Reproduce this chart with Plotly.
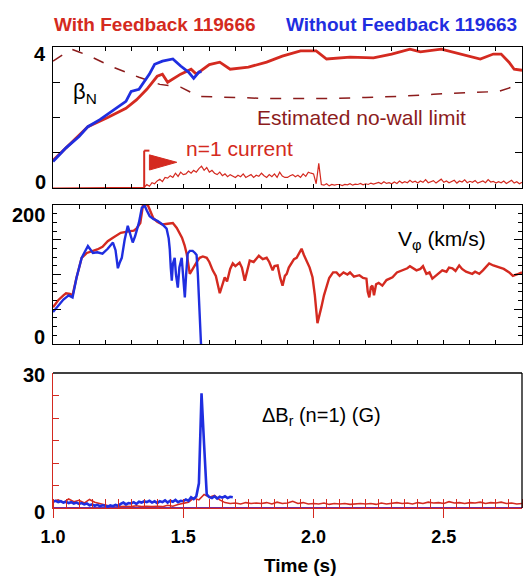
import numpy as np
import plotly.graph_objects as go

W, H = 531, 583
RED = "#d42a20"
BLUE = "#1f2ee0"
DARKRED = "#8c1c1c"
PURPLE = "#7a2a9a"
FONT = "Liberation Sans, Arial, sans-serif"

# ---------------- beta_N ----------------
betaN_fb_t = [1.00, 1.134, 1.21, 1.28, 1.32, 1.36, 1.40, 1.42, 1.44, 1.49, 1.53, 1.55, 1.60, 1.64,
              1.68, 1.75, 1.82, 1.88, 1.95, 2.01, 2.05, 2.14, 2.23, 2.30, 2.37, 2.41, 2.49, 2.59,
              2.64, 2.69, 2.72, 2.75, 2.77, 2.80]
betaN_fb = [0.78, 1.74, 2.00, 2.26, 2.50, 2.80, 3.17, 3.23, 3.00, 3.23, 3.37, 3.23, 3.50, 3.57,
            3.37, 3.43, 3.57, 3.74, 3.89, 3.89, 3.66, 3.71, 3.69, 3.80, 3.94, 3.86, 3.94, 3.74,
            3.66, 3.80, 3.80, 3.57, 3.37, 3.34]

betaN_nofb_t = [1.00, 1.05, 1.10, 1.134, 1.18, 1.245, 1.28, 1.30, 1.33, 1.37, 1.39, 1.42, 1.46,
                1.49, 1.52, 1.54, 1.56, 1.57]
betaN_nofb = [0.75, 1.14, 1.46, 1.74, 1.94, 2.29, 2.46, 2.74, 2.80, 3.23, 3.51, 3.60, 3.66,
              3.46, 3.29, 3.11, 3.29, 3.30]

nowall_t = [1.00, 1.07, 1.10, 1.15, 1.22, 1.28, 1.33, 1.41, 1.49, 1.56, 1.69, 1.82, 1.95, 2.07,
            2.20, 2.33, 2.46, 2.59, 2.71, 2.76, 2.80]
nowall = [3.60, 3.94, 3.86, 3.71, 3.46, 3.29, 3.14, 2.94, 2.86, 2.60, 2.57, 2.54, 2.54, 2.54,
          2.57, 2.60, 2.66, 2.71, 2.74, 2.86, 2.89]

# n=1 coil current (plotted in beta_N units), switched on at 1.35 s
feedback_on = 1.35
coil_t = [1.00] + list(np.round(np.arange(1.35, 2.805, 0.01), 3))
coil = [0.0,
        0.02, 0.10, 0.05, 0.15, 0.12,
        0.20, 0.25, 0.18, 0.30, 0.28, 0.35, 0.30, 0.42, 0.33, 0.45,
        0.38, 0.40, 0.48, 0.42, 0.50, 0.45, 0.55, 0.62, 0.50, 0.58,
        0.45, 0.50, 0.42, 0.38, 0.45, 0.35, 0.40, 0.32, 0.38, 0.35,
        0.30, 0.36, 0.32, 0.40, 0.30, 0.34, 0.38, 0.30, 0.36, 0.33,
        0.42, 0.35, 0.30, 0.38, 0.32, 0.40, 0.30, 0.45, 0.34, 0.30,
        0.30, 0.35, 0.38, 0.32, 0.36, 0.30, 0.40, 0.33, 0.45, 0.42,
        0.40, 0.12, 0.70, 0.10, 0.08, 0.12, 0.06, 0.10, 0.08, 0.10,
        0.10, 0.07, 0.10, 0.09, 0.12, 0.08, 0.11, 0.10, 0.13, 0.09,
        0.12, 0.10, 0.14, 0.11, 0.13, 0.16, 0.12, 0.18, 0.13, 0.15,
        0.12, 0.17, 0.13, 0.20, 0.14, 0.18, 0.15, 0.22, 0.16, 0.19,
        0.14, 0.20, 0.16, 0.24, 0.15, 0.18, 0.21, 0.14, 0.19, 0.25,
        0.16, 0.20, 0.15, 0.18, 0.22, 0.14, 0.20, 0.17, 0.23, 0.15,
        0.19, 0.16, 0.21, 0.14, 0.18, 0.20, 0.15, 0.24, 0.17, 0.19,
        0.14, 0.18, 0.15, 0.20, 0.13, 0.17, 0.22, 0.14, 0.18, 0.12,
        0.16, 0.15]
coil = coil[:len(coil_t)]

# ---------------- toroidal rotation (km/s) ----------------
vphi_fb_t = [1.00, 1.02, 1.04, 1.05, 1.065, 1.075, 1.09, 1.11, 1.13, 1.15, 1.17, 1.19, 1.21, 1.23,
             1.26, 1.29, 1.31, 1.32, 1.335, 1.345, 1.355, 1.365, 1.375, 1.385, 1.40, 1.42, 1.44,
             1.46, 1.475, 1.495, 1.505, 1.513, 1.525, 1.535, 1.543, 1.555, 1.563, 1.575, 1.59,
             1.60, 1.613, 1.625, 1.64, 1.648, 1.659, 1.668, 1.68, 1.69, 1.70, 1.716, 1.725, 1.736,
             1.745, 1.755, 1.77, 1.79, 1.805, 1.82, 1.83, 1.843, 1.85, 1.862, 1.872, 1.881, 1.89,
             1.897, 1.905, 1.916, 1.925, 1.935, 1.945, 1.954, 1.963, 1.973, 1.985, 1.996, 2.005,
             2.015, 2.022, 2.03, 2.04, 2.049, 2.06, 2.075, 2.088, 2.10, 2.115, 2.13, 2.14, 2.155,
             2.176, 2.19, 2.203, 2.208, 2.214, 2.22, 2.226, 2.232, 2.24, 2.25, 2.264, 2.28, 2.303,
             2.32, 2.34, 2.36, 2.37, 2.38, 2.395, 2.41, 2.42, 2.433, 2.445, 2.456, 2.47, 2.48,
             2.494, 2.51, 2.52, 2.533, 2.545, 2.559, 2.57, 2.585, 2.609, 2.62, 2.636, 2.65, 2.674,
             2.69, 2.713, 2.73, 2.751, 2.765, 2.78, 2.80]
vphi_fb = [53, 63, 70, 73, 72, 70, 95, 124, 131, 133, 136, 140, 148, 153,
           160, 162, 163, 166, 174, 199, 202, 199, 190, 181, 176, 172, 173,
           174, 167, 153, 142, 130, 101, 108, 113, 120, 124, 126, 124,
           118, 106, 98, 73, 82, 96, 90, 108, 116, 112, 117, 110, 91,
           105, 120, 118, 127, 122, 124, 118, 106, 112, 113, 95, 84, 98,
           101, 110, 116, 122, 124, 132, 137, 128, 120, 110, 96, 70,
           30, 40, 53, 70, 81, 95, 103, 103, 98, 103, 100, 103, 97,
           99, 95, 94, 75, 67, 82, 84, 70, 86, 88, 84, 92, 96,
           103, 106, 109, 112, 110, 106, 108, 112, 101, 103, 94, 98, 102,
           106, 104, 110, 109, 105, 113, 108, 104, 101, 104, 101, 106, 116,
           113, 110, 108, 103, 98, 100, 103]

vphi_nofb_t = [1.00, 1.02, 1.04, 1.06, 1.075, 1.09, 1.11, 1.134, 1.145, 1.153, 1.17, 1.19, 1.21,
               1.23, 1.24, 1.249, 1.257, 1.264, 1.275, 1.287, 1.295, 1.306, 1.315, 1.322, 1.33,
               1.341, 1.352, 1.36, 1.371, 1.385, 1.402, 1.42, 1.436, 1.444, 1.448, 1.452, 1.456,
               1.46, 1.467, 1.472, 1.479, 1.485, 1.494, 1.50, 1.506, 1.511, 1.517, 1.525, 1.536,
               1.545, 1.551, 1.556, 1.56, 1.563, 1.568, 1.575]
vphi_nofb = [46, 55, 64, 70, 67, 95, 124, 141, 136, 131, 132, 130, 137,
             146, 135, 109, 118, 124, 150, 170, 160, 146, 155, 163, 175,
             196, 199, 192, 184, 180, 177, 172, 166, 152, 137, 110, 91,
             115, 124, 100, 81, 110, 124, 95, 67, 100, 130, 134, 134,
             131, 128, 100, 60, 30, 0, -20]

# ---------------- n=1 radial field (G) ----------------
dbr_fb_t = list(np.round(np.arange(1.00, 2.801, 0.02), 3))
dbr_fb = [1.5, 1.8, 1.2, 2.0, 1.4, 1.7, 1.1, 1.9, 1.3, 1.0,
          0.6, 0.4, 0.5, 0.3, 0.4, 0.3, 0.5, 0.3, 0.4, 0.3,
          0.4, 0.3, 0.6, 0.4, 0.8, 1.0, 1.3, 2.2, 1.8, 3.0,
          2.4, 2.8, 1.8, 1.2, 1.0, 1.1, 0.9, 1.2, 1.0, 1.1,
          1.0, 1.2, 0.9, 1.3, 1.0, 1.1, 1.5, 1.0, 1.2, 0.9,
          1.0, 0.9, 1.1, 0.8, 1.0, 0.9, 1.0, 0.8, 0.9, 1.0,
          0.9, 1.0, 0.8, 1.1, 0.9, 1.0, 1.2, 1.0, 1.1, 0.9,
          1.2, 1.0, 1.3, 1.1, 1.2, 1.0, 1.4, 1.1, 1.2, 1.0,
          1.2, 1.1, 1.3, 1.0, 1.2, 1.1, 1.3, 1.0, 1.1, 0.9, 1.0]

dbr_nofb_t = list(np.round(np.arange(1.00, 1.695, 0.01), 3))
dbr_nofb = [1.4, 1.6, 1.3, 1.5, 1.2, 1.4, 1.1, 1.3, 1.0, 1.2,
            0.9, 1.1, 0.8, 1.0, 0.6, 0.8, 0.5, 0.7, 0.4, 0.6,
            0.5, 0.3, 0.6, 0.4, 0.7, 0.5, 0.9, 1.2, 0.8, 1.1,
            1.0, 1.3, 0.9, 1.4, 1.2, 1.5, 1.3, 1.6, 1.2, 1.5,
            1.1, 1.5, 1.3, 1.7, 1.2, 1.6, 1.4, 1.8, 1.3, 1.6,
            1.5, 1.9, 1.6, 2.4, 2.0, 2.6, 5.5, 25.5, 14.0, 3.0,
            2.4, 2.2, 2.6, 2.1, 2.5, 2.3, 2.6, 2.2, 2.5, 2.4]

t_range = [1.0, 2.8]
x_ticks = [1.0, 1.5, 2.0, 2.5]
x_ticktext = ["1.0", "1.5", "2.0", "2.5"]

# ---------------- layout geometry (pixels) ----------------
X0, X1 = 53, 522
panels = [(47, 188), (205, 344), (373, 508)]


def ydom(top, bot):
    return [1 - bot / H, 1 - top / H]


fig = go.Figure()

# panel 1
fig.add_trace(go.Scatter(x=coil_t, y=coil, mode="lines", line=dict(color=RED, width=1.2),
                         xaxis="x", yaxis="y"))
fig.add_trace(go.Scatter(x=nowall_t, y=nowall, mode="lines",
                         line=dict(color=DARKRED, width=1.5, dash="11px,12px"),
                         xaxis="x", yaxis="y"))
fig.add_trace(go.Scatter(x=betaN_fb_t, y=betaN_fb, mode="lines", line=dict(color=RED, width=2.8),
                         xaxis="x", yaxis="y"))
fig.add_trace(go.Scatter(x=betaN_nofb_t, y=betaN_nofb, mode="lines",
                         line=dict(color=BLUE, width=2.8), xaxis="x", yaxis="y"))

# panel 2
fig.add_trace(go.Scatter(x=vphi_fb_t, y=vphi_fb, mode="lines", line=dict(color=RED, width=2.4),
                         xaxis="x2", yaxis="y2"))
fig.add_trace(go.Scatter(x=vphi_nofb_t, y=vphi_nofb, mode="lines",
                         line=dict(color=BLUE, width=2.4), xaxis="x2", yaxis="y2"))

# panel 3
fig.add_trace(go.Scatter(x=t_range, y=[0, 0], mode="lines", line=dict(color=PURPLE, width=2),
                         xaxis="x3", yaxis="y3"))
fig.add_trace(go.Scatter(x=dbr_fb_t, y=dbr_fb, mode="lines", line=dict(color=RED, width=1.6),
                         xaxis="x3", yaxis="y3"))
fig.add_trace(go.Scatter(x=dbr_nofb_t, y=dbr_nofb, mode="lines", line=dict(color=BLUE, width=2.6),
                         xaxis="x3", yaxis="y3"))

xdom = [X0 / W, X1 / W]
common_x = dict(range=t_range, domain=xdom, showgrid=False, zeroline=False, automargin=False,
                linecolor="black", linewidth=1.3, showline=True)
common_y = dict(showgrid=False, zeroline=False, showline=True, linewidth=1.3, automargin=False,
                showticklabels=False, tickmode="array", ticks="inside")
fig.update_layout(
    width=W, height=H, autosize=False,
    margin=dict(l=0, r=0, t=0, b=0, pad=0, autoexpand=False),
    paper_bgcolor="white", plot_bgcolor="white",
    showlegend=False,
    font=dict(family=FONT, color="black"),
    xaxis=dict(**common_x, anchor="y", ticks="inside", dtick=0.1, tick0=1.0, ticklen=4,
               tickcolor="black", mirror="ticks", showticklabels=False),
    xaxis2=dict(**common_x, anchor="y2", ticks="inside", dtick=0.1, tick0=1.0, ticklen=4,
                tickcolor="black", mirror="ticks", showticklabels=False),
    xaxis3=dict(range=t_range, domain=xdom, showgrid=False, zeroline=False, showline=True,
                automargin=False,
                linecolor=RED, linewidth=1.3, anchor="y3",
                tickmode="array", tickvals=x_ticks, ticktext=x_ticktext,
                ticks="outside", ticklen=9, tickcolor=RED, tickwidth=1.3,
                ticklabelstandoff=3,
                tickfont=dict(size=18, family=FONT, color="black", weight="bold"),
                minor=dict(ticks="inside", dtick=0.05, tick0=1.0, ticklen=9,
                           tickcolor=RED, tickwidth=1.2)),
    yaxis=dict(**common_y, range=[0, 4], domain=ydom(*panels[0]), linecolor="black",
               mirror="ticks", tickvals=[0, 1, 2, 3, 4], ticklen=7, tickcolor="black",
               anchor="x"),
    yaxis2=dict(**common_y, range=[0, 200], domain=ydom(*panels[1]), linecolor="black",
                mirror="ticks", tickvals=[0, 50, 100, 150, 200], ticklen=8, tickcolor="black",
                minor=dict(ticks="inside", dtick=12.5, ticklen=4, tickcolor="black"),
                anchor="x2"),
    yaxis3=dict(**common_y, range=[0, 30], domain=ydom(*panels[2]), linecolor=RED,
                tickvals=[0, 10, 20, 30], ticklen=6, tickcolor=RED,
                minor=dict(ticks="inside", dtick=5, ticklen=6, tickcolor=RED),
                anchor="x3"),
)

# top and right frame of the field panel
fig.add_shape(type="line", xref="paper", yref="paper", x0=xdom[0], x1=xdom[1],
              y0=ydom(*panels[2])[1], y1=ydom(*panels[2])[1], line=dict(color="black", width=1.3))
fig.add_shape(type="line", xref="paper", yref="paper", x0=xdom[1], x1=xdom[1],
              y0=ydom(*panels[2])[0], y1=ydom(*panels[2])[1], line=dict(color="black", width=1.3))

# feedback-on flag
fig.add_shape(type="line", xref="x", yref="y", x0=feedback_on, x1=feedback_on, y0=0, y1=1.06,
              line=dict(color=RED, width=2))
fig.add_shape(type="line", xref="x", yref="y", x0=feedback_on, x1=feedback_on + 0.02,
              y0=1.06, y1=1.06, line=dict(color=RED, width=2))
fig.add_shape(type="path", xref="x", yref="y",
              path=f"M {feedback_on + 0.02},0.94 L {feedback_on + 0.125},0.73 "
                   f"L {feedback_on + 0.02},0.51 Z",
              fillcolor=RED, line=dict(color=RED, width=1))

ann = dict(showarrow=False, xref="paper", yref="paper")
bold20 = dict(size=20, color="black", family=FONT, weight="bold")

# y-axis end labels
for text, xr, yc in [("4", 47, 54), ("0", 47, 182), ("200", 46, 215), ("0", 46, 337),
                     ("30", 46, 375), ("0", 46, 512)]:
    fig.add_annotation(text=text, x=xr / W, y=1 - yc / H, xanchor="right", yanchor="middle",
                       font=bold20, borderpad=0, **ann)

fig.add_annotation(text="With Feedback 119666", x=53 / W, y=1 - 24 / H, xanchor="left",
                   yanchor="middle", font=dict(size=19, color=RED, family=FONT, weight="bold"),
                   borderpad=0, **ann)
fig.add_annotation(text="Without Feedback 119663", x=285 / W, y=1 - 24 / H, xanchor="left",
                   yanchor="middle", font=dict(size=19, color=BLUE, family=FONT, weight="bold"),
                   borderpad=0, **ann)
fig.add_annotation(text="β<sub>N</sub>", x=72 / W, y=1 - 93 / H, xanchor="left", yanchor="middle",
                   font=dict(size=22, color="black", family=FONT), borderpad=0, **ann)
fig.add_annotation(text="Estimated no-wall limit", x=256 / W, y=1 - 118 / H, xanchor="left",
                   yanchor="middle", font=dict(size=21, color=DARKRED, family=FONT),
                   borderpad=0, **ann)
fig.add_annotation(text="n=1 current", x=185 / W, y=1 - 148 / H, xanchor="left",
                   yanchor="middle", font=dict(size=21, color=RED, family=FONT),
                   borderpad=0, **ann)
fig.add_annotation(text="V<sub>φ</sub> (km/s)", x=397 / W, y=1 - 240 / H, xanchor="left",
                   yanchor="middle", font=dict(size=21, color="black", family=FONT),
                   borderpad=0, **ann)
fig.add_annotation(text="ΔB<sub>r</sub> (n=1) (G)", x=261 / W, y=1 - 416 / H, xanchor="left",
                   yanchor="middle", font=dict(size=20, color="black", family=FONT),
                   borderpad=0, **ann)
fig.add_annotation(text="Time (s)", x=300 / W, y=1 - 565 / H, xanchor="center",
                   yanchor="middle", font=dict(size=19, color="black", family=FONT, weight="bold"),
                   borderpad=0, **ann)

fig.write_html("out.html")
